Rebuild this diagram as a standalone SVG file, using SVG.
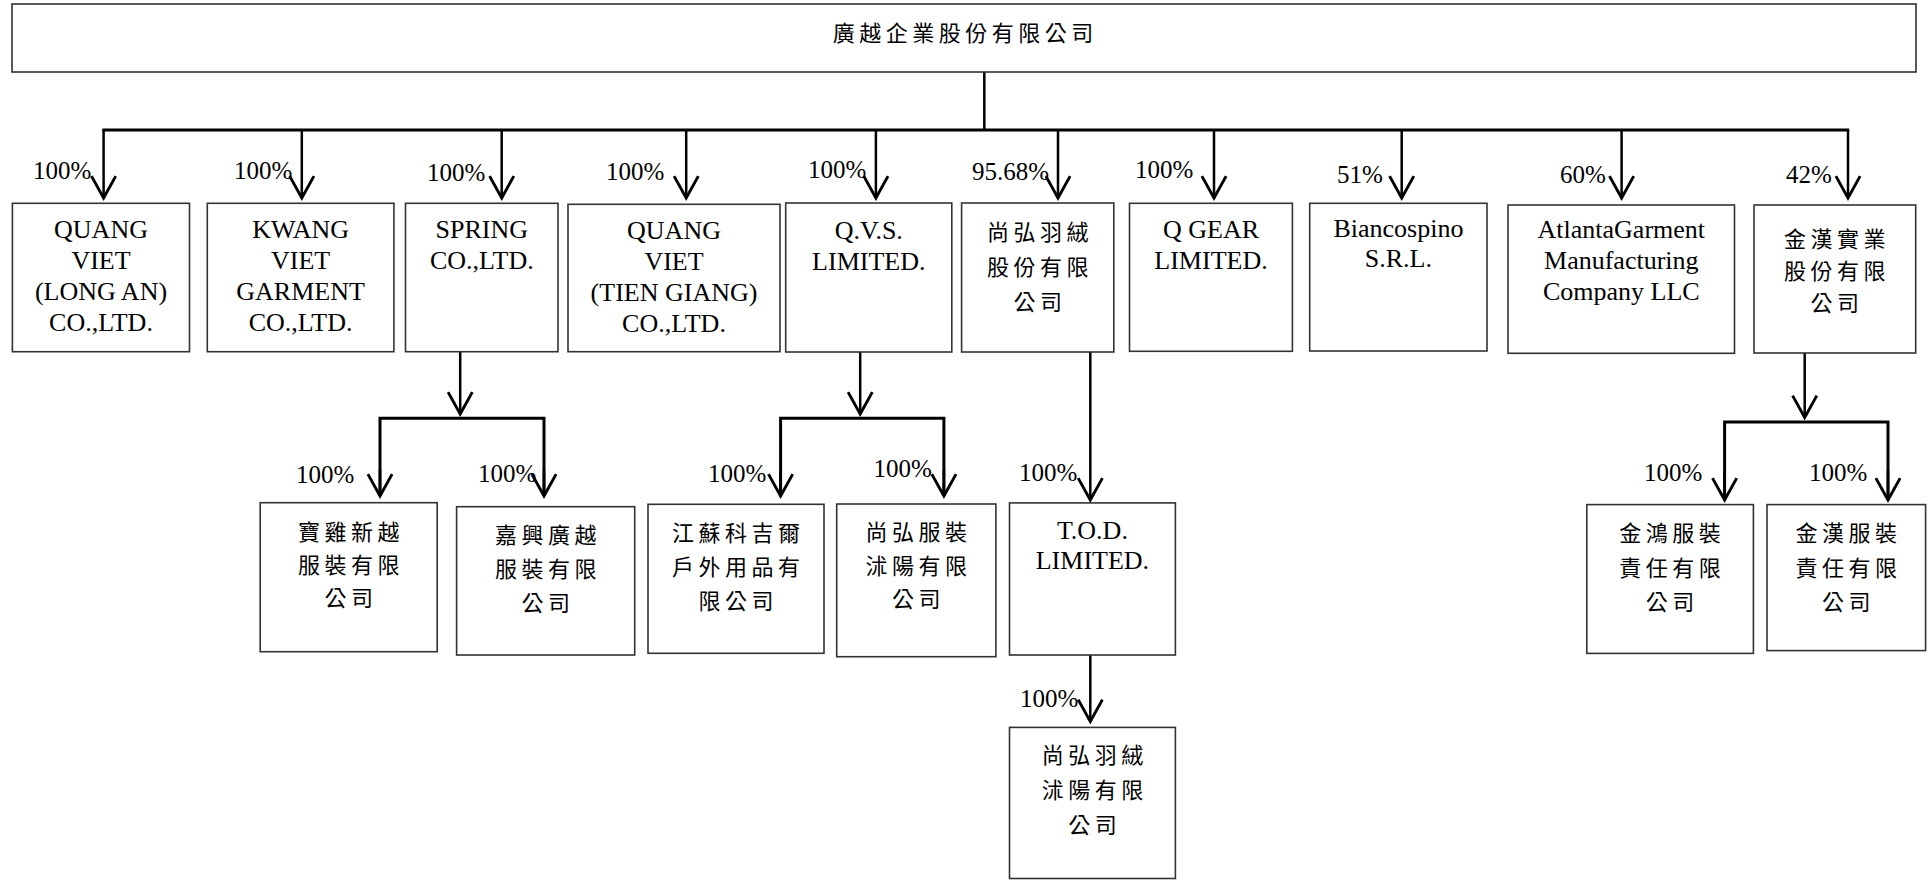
<svg xmlns="http://www.w3.org/2000/svg" width="1932" height="880" viewBox="0 0 1932 880">
<style>
.box{fill:#fff;stroke:#333;stroke-width:1.6}
.en{font-family:"Liberation Serif","Times New Roman",serif;font-size:26px;fill:#000;text-anchor:middle}
.zh{font-family:"Noto Sans CJK TC","Noto Sans CJK SC",sans-serif;font-size:22px;letter-spacing:4.5px;fill:#000;text-anchor:middle}
.pct{font-family:"Liberation Serif","Times New Roman",serif;font-size:25px;fill:#000}
.ln{fill:none;stroke:#000;stroke-width:2.5}
.br{fill:none;stroke:#000;stroke-width:3}
.ar{fill:none;stroke:#000;stroke-width:2.5;marker-end:url(#arr)}
</style>
<defs>
<marker id="arr" markerUnits="userSpaceOnUse" markerWidth="30" markerHeight="30" viewBox="-2 -13 24 26" refX="19" refY="0" orient="auto" overflow="visible">
<path d="M0,-10.5 L19,0 L0,10.5" fill="none" stroke="#000" stroke-width="2.5"/>
</marker>
</defs>

<g id="connectors">
<line class="ln" x1="984.3" y1="72" x2="984.3" y2="130"/>
<line class="br" x1="102.3" y1="130" x2="1849.2" y2="130"/>
<line class="ar" x1="103.6" y1="130" x2="103.6" y2="198"/>
<line class="ar" x1="301.8" y1="130" x2="301.8" y2="198"/>
<line class="ar" x1="501.7" y1="130" x2="501.7" y2="198"/>
<line class="ar" x1="686.2" y1="130" x2="686.2" y2="198"/>
<line class="ar" x1="875.9" y1="130" x2="875.9" y2="198"/>
<line class="ar" x1="1058" y1="130" x2="1058" y2="198"/>
<line class="ar" x1="1214" y1="130" x2="1214" y2="198"/>
<line class="ar" x1="1401.7" y1="130" x2="1401.7" y2="198"/>
<line class="ar" x1="1621.6" y1="130" x2="1621.6" y2="198"/>
<line class="ar" x1="1848" y1="130" x2="1848" y2="198"/>

<line class="ar" x1="460.2" y1="352" x2="460.2" y2="414"/>
<polyline class="br" points="380,496 380,418.3 544,418.3 544,496"/>
<line class="ar" x1="380" y1="470" x2="380" y2="496"/>
<line class="ar" x1="544" y1="470" x2="544" y2="496"/>

<line class="ar" x1="860.2" y1="352" x2="860.2" y2="414"/>
<polyline class="br" points="780.6,496 780.6,418.3 943.9,418.3 943.9,496"/>
<line class="ar" x1="780.6" y1="470" x2="780.6" y2="496"/>
<line class="ar" x1="943.9" y1="470" x2="943.9" y2="496"/>

<line class="ar" x1="1090.3" y1="352" x2="1090.3" y2="500"/>
<line class="ar" x1="1090.3" y1="653" x2="1090.3" y2="721.5"/>

<line class="ar" x1="1804.7" y1="353" x2="1804.7" y2="417.5"/>
<polyline class="br" points="1724.6,500 1724.6,422 1888,422 1888,500"/>
<line class="ar" x1="1724.6" y1="470" x2="1724.6" y2="500"/>
<line class="ar" x1="1888" y1="470" x2="1888" y2="500"/>
</g>

<g id="labels">
<text class="pct" x="33" y="179">100%</text>
<text class="pct" x="234" y="179">100%</text>
<text class="pct" x="427" y="181">100%</text>
<text class="pct" x="606" y="180">100%</text>
<text class="pct" x="808" y="178">100%</text>
<text class="pct" x="972" y="180">95.68%</text>
<text class="pct" x="1135" y="178">100%</text>
<text class="pct" x="1337" y="183">51%</text>
<text class="pct" x="1560" y="183">60%</text>
<text class="pct" x="1786" y="183">42%</text>
<text class="pct" x="296" y="482.5">100%</text>
<text class="pct" x="478" y="482">100%</text>
<text class="pct" x="708" y="482">100%</text>
<text class="pct" x="873.5" y="477">100%</text>
<text class="pct" x="1019" y="480.5">100%</text>
<text class="pct" x="1020" y="706.5">100%</text>
<text class="pct" x="1644" y="481">100%</text>
<text class="pct" x="1809" y="481">100%</text>
</g>

<g id="n-root">
<rect class="box" x="12" y="4" width="1904" height="68"/>
<text class="zh" x="965.2" y="41">廣越企業股份有限公司</text>
</g>

<g id="n-quangviet-longan">
<rect class="box" x="12.4" y="203.3" width="177.1" height="148.4"/>
<text class="en" x="101" y="238">QUANG<tspan x="101" dy="31">VIET</tspan><tspan x="101" dy="31">(LONG AN)</tspan><tspan x="101" dy="31">CO.,LTD.</tspan></text>
</g>

<g id="n-kwangviet">
<rect class="box" x="207.3" y="203.3" width="186.6" height="148.4"/>
<text class="en" x="300.6" y="238">KWANG<tspan x="300.6" dy="31">VIET</tspan><tspan x="300.6" dy="31">GARMENT</tspan><tspan x="300.6" dy="31">CO.,LTD.</tspan></text>
</g>

<g id="n-spring">
<rect class="box" x="405.5" y="203.3" width="152.5" height="148.4"/>
<text class="en" x="481.8" y="238">SPRING<tspan x="481.8" dy="31">CO.,LTD.</tspan></text>
</g>

<g id="n-quangviet-tiengiang">
<rect class="box" x="568" y="204.3" width="212" height="147.4"/>
<text class="en" x="674" y="239">QUANG<tspan x="674" dy="31">VIET</tspan><tspan x="674" dy="31">(TIEN GIANG)</tspan><tspan x="674" dy="31">CO.,LTD.</tspan></text>
</g>

<g id="n-qvs">
<rect class="box" x="785.7" y="203" width="166.1" height="149"/>
<text class="en" x="868.8" y="239">Q.V.S.<tspan x="868.8" dy="31">LIMITED.</tspan></text>
</g>

<g id="n-shanghong-down">
<rect class="box" x="961.6" y="203" width="152.2" height="149"/>
<text class="zh" x="1040" y="240">尚弘羽絨<tspan x="1040" dy="35">股份有限</tspan><tspan x="1040" dy="35">公司</tspan></text>
</g>

<g id="n-qgear">
<rect class="box" x="1129.5" y="203.3" width="162.9" height="148"/>
<text class="en" x="1211" y="238">Q GEAR<tspan x="1211" dy="31">LIMITED.</tspan></text>
</g>

<g id="n-biancospino">
<rect class="box" x="1309.7" y="203.3" width="177.3" height="147.7"/>
<text class="en" x="1398.4" y="237">Biancospino<tspan x="1398.4" dy="30">S.R.L.</tspan></text>
</g>

<g id="n-atlanta">
<rect class="box" x="1508" y="205" width="226.5" height="148.3"/>
<text class="en" x="1621.3" y="238">AtlantaGarment<tspan x="1621.3" dy="31">Manufacturing</tspan><tspan x="1621.3" dy="31">Company LLC</tspan></text>
</g>

<g id="n-jinhan">
<rect class="box" x="1754" y="205" width="161.7" height="148"/>
<text class="zh" x="1837.1" y="247">金漢實業<tspan x="1837.1" dy="32">股份有限</tspan><tspan x="1837.1" dy="32">公司</tspan></text>
</g>

<g id="n-baoji">
<rect class="box" x="260.2" y="502.7" width="177" height="149"/>
<text class="zh" x="351" y="540">寶雞新越<tspan x="351" dy="33">服裝有限</tspan><tspan x="351" dy="33">公司</tspan></text>
</g>

<g id="n-jiaxing">
<rect class="box" x="456.6" y="506.7" width="178.1" height="148.3"/>
<text class="zh" x="547.9" y="543">嘉興廣越<tspan x="547.9" dy="34">服裝有限</tspan><tspan x="547.9" dy="34">公司</tspan></text>
</g>

<g id="n-jiangsu">
<rect class="box" x="648" y="504.3" width="176" height="149"/>
<text class="zh" x="738.2" y="541">江蘇科吉爾<tspan x="738.2" dy="34">戶外用品有</tspan><tspan x="738.2" dy="34">限公司</tspan></text>
</g>

<g id="n-shanghong-garment">
<rect class="box" x="836.7" y="504" width="159.2" height="152.7"/>
<text class="zh" x="918.5" y="540">尚弘服裝<tspan x="918.5" dy="33.5">沭陽有限</tspan><tspan x="918.5" dy="33.5">公司</tspan></text>
</g>

<g id="n-tod">
<rect class="box" x="1009.5" y="502.9" width="165.9" height="152.1"/>
<text class="en" x="1092.4" y="539">T.O.D.<tspan x="1092.4" dy="30">LIMITED.</tspan></text>
</g>

<g id="n-shanghong-down-shuyang">
<rect class="box" x="1009.5" y="727.4" width="165.9" height="151.1"/>
<text class="zh" x="1094.7" y="763">尚弘羽絨<tspan x="1094.7" dy="35">沭陽有限</tspan><tspan x="1094.7" dy="35">公司</tspan></text>
</g>

<g id="n-jinhong">
<rect class="box" x="1586.8" y="504.6" width="166.6" height="148.8"/>
<text class="zh" x="1672.3" y="541">金鴻服裝<tspan x="1672.3" dy="34.5">責任有限</tspan><tspan x="1672.3" dy="34.5">公司</tspan></text>
</g>

<g id="n-jinhan-garment">
<rect class="box" x="1767" y="504.6" width="158.6" height="146"/>
<text class="zh" x="1848.5" y="541">金漢服裝<tspan x="1848.5" dy="34.5">責任有限</tspan><tspan x="1848.5" dy="34.5">公司</tspan></text>
</g>
</svg>
